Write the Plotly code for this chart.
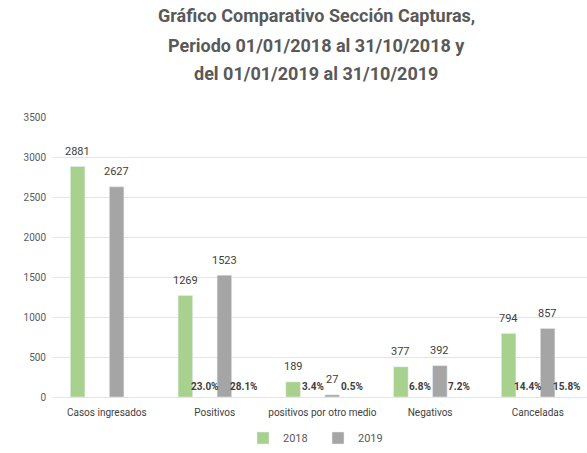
import plotly.graph_objects as go
import numpy as np

categories = ["Casos ingresados", "Positivos", "positivos por otro medio", "Negativos", "Canceladas"]
values_2018 = [2881, 1269, 189, 377, 794]
values_2019 = [2627, 1523, 27, 392, 857]
pct_2018 = [None, "23.0%", "3.4%", "6.8%", "14.4%"]
pct_2019 = [None, "28.1%", "0.5%", "7.2%", "15.8%"]
y_ticks = [0, 500, 1000, 1500, 2000, 2500, 3000, 3500]
title_lines = ["Gráfico Comparativo Sección Capturas,",
               "Periodo 01/01/2018 al 31/10/2018 y",
               "del 01/01/2019 al 31/10/2019"]

FONT = "Roboto, sans-serif"
GREEN = "#A9D18E"
GRAY = "#A5A5A5"
TXT = "#595959"
LBL = "#404040"

L, T, B = 53, 117, 56
PH = 453 - T - B

idx = np.arange(len(categories))
slot = 0.181
off = [-1.5 * slot, -0.5 * slot, 0.5 * slot, 1.5 * slot]
bw = 0.135

fig = go.Figure()
fig.add_trace(go.Bar(name="2018", x=idx + off[0], y=values_2018, width=bw,
                     marker_color=GREEN, hoverinfo="y"))
fig.add_trace(go.Bar(name="2019", x=idx + off[2], y=values_2019, width=bw,
                     marker_color=GRAY, hoverinfo="y"))

ann = []
for i in idx:
    ann.append(dict(x=i + off[0], y=values_2018[i], text=str(values_2018[i]), showarrow=False,
                    yanchor="middle", yshift=15, font=dict(family=FONT, size=11, color=LBL)))
    ann.append(dict(x=i + off[2], y=values_2019[i], text=str(values_2019[i]), showarrow=False,
                    yanchor="middle", yshift=15, font=dict(family=FONT, size=11, color=LBL)))
    if pct_2018[i]:
        ann.append(dict(x=i + off[1], y=0, text="<b>" + pct_2018[i] + "</b>", showarrow=False,
                        yanchor="middle", yshift=11, font=dict(family=FONT, size=10, color=LBL)))
    if pct_2019[i]:
        ann.append(dict(x=i + off[3], y=0, text="<b>" + pct_2019[i] + "</b>", showarrow=False,
                        yanchor="middle", yshift=11, font=dict(family=FONT, size=10, color=LBL)))
for a in ann:
    a["xref"] = "x"
    a["yref"] = "y"

title_y_px = [16, 45, 73]
for line, ypx in zip(title_lines, title_y_px):
    ann.append(dict(xref="paper", yref="paper", x=(316 - L) / (587 - L), y=1 + (T - ypx) / PH,
                    xanchor="center", yanchor="middle", showarrow=False, text="<b>" + line + "</b>",
                    font=dict(family=FONT, size=18, color=TXT)))

fig.update_layout(
    width=587, height=453,
    margin=dict(l=L, r=0, t=T, b=B, autoexpand=False),
    paper_bgcolor="white", plot_bgcolor="white",
    showlegend=True,
    legend=dict(orientation="h", x=(318 - L) / (587 - L), xanchor="center", y=-41 / PH, yanchor="middle",
                font=dict(family=FONT, size=11, color=TXT), itemwidth=30,
                entrywidth=30, entrywidthmode="pixels"),
    annotations=ann,
    xaxis=dict(range=[-0.5, 4.456], tickvals=idx, ticktext=categories, showgrid=False,
               zeroline=False, showline=False, ticks="", automargin=False, ticklabelstandoff=8,
               tickfont=dict(family=FONT, size=10, color=LBL)),
    yaxis=dict(range=[0, 3500], tickvals=y_ticks, showgrid=True, gridcolor="#E4E4E4",
               gridwidth=1, zeroline=True, zerolinecolor="#E4E4E4", zerolinewidth=1,
               ticks="", automargin=False, ticklabelstandoff=6,
               tickfont=dict(family=FONT, size=10, color=TXT)),
)

fig.write_html("out.html", config={"displayModeBar": False},
               post_script="document.body.style.margin='0px';")
